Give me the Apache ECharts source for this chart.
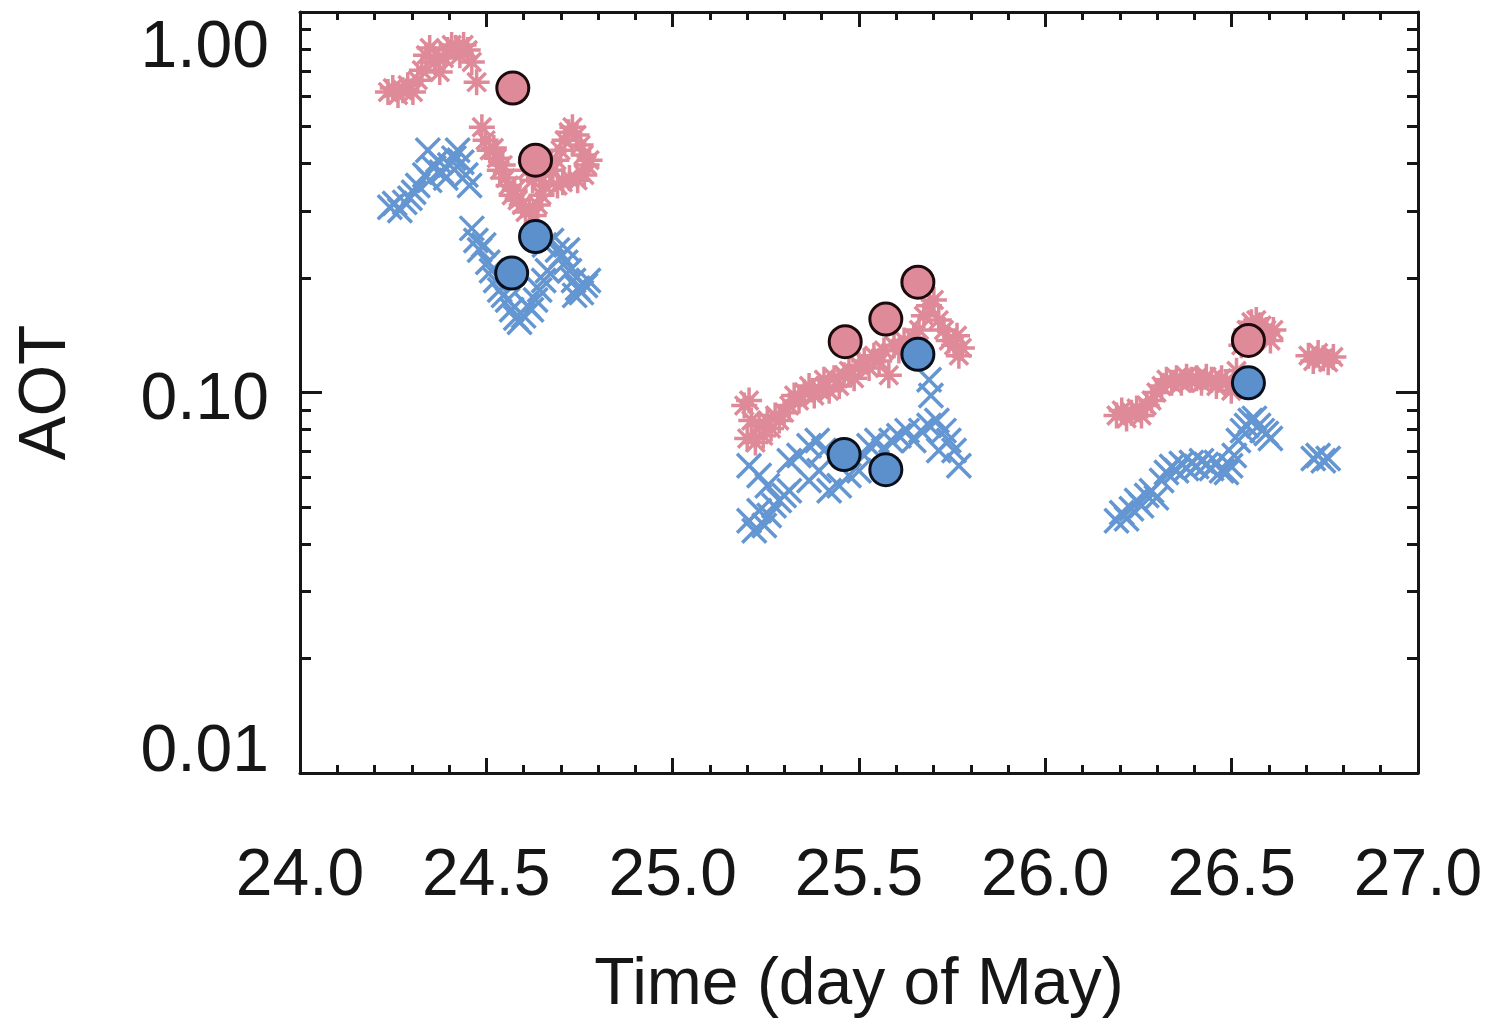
<!DOCTYPE html>
<html>
<head>
<meta charset="utf-8">
<script src="https://cdn.jsdelivr.net/npm/echarts@6/dist/echarts.min.js"></script>
<style>
html,body{margin:0;padding:0;background:#fff;}
#chart{width:1487px;height:1024px;}
</style>
</head>
<body>
<div id="chart"></div>
<script>
// ---- data (time in day of May, AOT) ----
const starTime = [
 24.236,24.249,24.263,24.276,24.289,24.303,24.316,24.327,24.338,24.348,24.362,24.375,24.386,24.396,24.407,24.418,24.429,24.439,24.450,24.461,24.474,
 24.488,24.498,24.509,24.520,24.528,24.536,24.544,24.552,24.560,24.568,24.576,24.584,24.595,24.605,24.616,24.627,24.638,24.648,24.656,24.611,24.624,24.643,24.654,
 24.678,24.688,24.699,24.710,24.721,24.731,24.742,24.753,24.761,24.769,24.777,24.763,24.745,24.723,24.705,24.691,
 25.192,25.205,25.200,25.211,25.222,25.232,25.243,25.254,25.264,25.275,25.286,25.299,25.313,25.326,25.339,25.353,25.366,25.380,25.393,25.406,25.420,25.433,25.447,25.460,25.473,25.487,25.500,25.514,25.527,25.540,25.554,25.567,25.580,25.594,25.607,25.621,25.634,25.647,25.661,25.674,25.688,25.701,25.714,25.728,25.741,25.755,25.768,25.776,25.763,
 26.191,26.205,26.218,26.231,26.245,26.258,26.272,26.285,26.298,26.312,26.325,26.339,26.352,26.365,26.379,26.392,26.406,26.419,26.432,26.446,26.459,26.473,26.486,26.499,26.513,26.526,26.540,26.553,26.566,26.580,26.593,26.604,26.612,
 26.706,26.719,26.732,26.746,26.759,26.773
];
const starAot = [
 0.616,0.631,0.605,0.623,0.642,0.616,0.662,0.703,0.770,0.804,0.739,0.695,0.757,0.794,0.819,0.804,0.770,0.819,0.794,0.739,0.654,
 0.498,0.460,0.433,0.439,0.413,0.384,0.396,0.366,0.350,0.330,0.340,0.320,0.311,0.298,0.305,0.292,0.311,0.330,0.350,0.384,0.361,0.373,0.408,
 0.384,0.408,0.433,0.460,0.483,0.498,0.475,0.447,0.421,0.396,0.408,0.373,0.361,0.366,0.357,0.350,
 0.0924,0.0953,0.0757,0.0844,0.0739,0.0819,0.0770,0.0844,0.0804,0.0870,0.0844,0.0885,0.0924,0.0982,0.0953,0.100,0.104,0.0982,0.102,0.108,0.101,0.109,0.104,0.111,0.114,0.109,0.118,0.121,0.116,0.125,0.121,0.129,0.111,0.133,0.129,0.137,0.133,0.139,0.146,0.159,0.169,0.175,0.155,0.146,0.137,0.133,0.125,0.131,0.141,
 0.0870,0.0897,0.0855,0.0885,0.0908,0.0870,0.0924,0.0953,0.100,0.104,0.108,0.106,0.109,0.106,0.110,0.108,0.109,0.106,0.110,0.108,0.104,0.109,0.106,0.101,0.114,0.133,0.146,0.153,0.155,0.150,0.146,0.137,0.146,
 0.125,0.121,0.127,0.123,0.120,0.124
];
const crossTime = [
 24.241,24.254,24.268,24.281,24.295,24.305,24.316,24.343,24.335,24.348,24.359,24.370,24.380,24.391,24.402,24.413,24.423,24.434,24.445,24.455,
 24.461,24.472,24.482,24.493,24.504,24.514,24.525,24.536,24.546,24.557,24.568,24.579,24.589,24.600,24.611,24.621,24.632,24.643,24.654,24.664,24.656,24.675,24.691,
 24.702,24.713,24.723,24.734,24.745,24.755,24.766,24.774,24.737,24.718,
 25.205,25.232,25.254,25.205,25.219,25.232,25.246,25.259,25.272,25.286,25.299,25.313,25.313,25.339,25.366,25.388,25.406,25.366,25.393,25.420,25.447,25.473,25.500,25.514,25.527,25.548,25.567,25.586,25.607,25.629,25.647,25.666,25.688,25.709,25.728,25.741,25.755,25.768,25.714,25.688,25.693,
 26.191,26.205,26.218,26.231,26.245,26.258,26.272,26.285,26.298,26.312,26.325,26.339,26.352,26.365,26.379,26.392,26.406,26.419,26.432,26.446,26.459,26.473,26.486,26.497,26.507,26.518,26.529,26.540,26.550,26.561,26.572,26.582,26.593,26.604,
 26.719,26.732,26.746,26.759
];
const crossAot = [
 0.307,0.314,0.301,0.316,0.324,0.336,0.350,0.433,0.373,0.361,0.389,0.408,0.379,0.366,0.396,0.413,0.433,0.403,0.373,0.350,
 0.270,0.251,0.237,0.244,0.220,0.209,0.197,0.186,0.180,0.175,0.165,0.157,0.153,0.159,0.169,0.165,0.175,0.186,0.197,0.209,0.244,0.251,0.237,
 0.229,0.220,0.209,0.197,0.188,0.183,0.191,0.197,0.180,0.237,
 0.0642,0.0605,0.0569,0.0460,0.0433,0.0489,0.0447,0.0475,0.0504,0.0520,0.0536,0.0552,0.0662,0.0683,0.0725,0.0748,0.0704,0.0587,0.0623,0.0552,0.0569,0.0605,0.0623,0.0683,0.0725,0.0748,0.0704,0.0748,0.0770,0.0794,0.0748,0.0794,0.0819,0.0844,0.0794,0.0748,0.0704,0.0642,0.0704,0.108,0.0982,
 0.0460,0.0483,0.0466,0.0495,0.0520,0.0504,0.0536,0.0552,0.0529,0.0587,0.0616,0.0639,0.0623,0.0651,0.0631,0.0655,0.0639,0.0662,0.0647,0.0631,0.0655,0.0623,0.0616,0.0642,0.0683,0.0748,0.0794,0.0819,0.0844,0.0855,0.0819,0.0794,0.0780,0.0757,
 0.0671,0.0683,0.0662,0.0671
];
const circlePinkTime = [24.571, 24.632, 25.463, 25.572, 25.658, 26.545];
const circlePinkAot  = [0.631, 0.408, 0.136, 0.156, 0.195, 0.137];
const circleBlueTime = [24.568, 24.632, 25.460, 25.572, 25.658, 26.545];
const circleBlueAot  = [0.206, 0.257, 0.0687, 0.0627, 0.126, 0.106];
const xTickLabels = ['24.0','24.5','25.0','25.5','26.0','26.5','27.0'];
const yTickLabels = ['0.01','0.10','1.00'];
const yMinorValues = [0.02,0.03,0.04,0.05,0.06,0.07,0.08,0.09,0.2,0.3,0.4,0.5,0.6,0.7,0.8,0.9];

const zip = (a, b) => a.map((v, i) => [v, b[i]]);

const PINK = '#df8a99';
const BLUE = '#6496d2';
const FONT = 'Liberation Sans';
const INK = '#161616';

const chart = echarts.init(document.getElementById('chart'), null, {renderer: 'canvas'});

const xCommon = {
  type: 'value', min: 24, max: 27, interval: 0.5,
  axisLine: {show: true, onZero: false, lineStyle: {color: INK, width: 3}},
  axisTick: {show: true, inside: true, length: 15, lineStyle: {color: INK, width: 3}},
  minorTick: {show: true, splitNumber: 5, length: 8, lineStyle: {color: INK, width: 3}},
  splitLine: {show: false}, minorSplitLine: {show: false}
};
const yMinorCommon = {
  type: 'value', min: -2, max: 0,
  axisLine: {show: false},
  axisLabel: {show: false},
  splitLine: {show: false},
  axisTick: {show: true, inside: true, length: 11, lineStyle: {color: INK, width: 3},
    customValues: yMinorValues.map(v => Math.log10(v))}
};
const yMajorCommon = {
  type: 'log', logBase: 10, min: 0.01, max: 1,
  axisLine: {show: true, onZero: false, lineStyle: {color: INK, width: 3}},
  axisTick: {show: true, inside: true, length: 22, lineStyle: {color: INK, width: 3}},
  minorTick: {show: false},
  splitLine: {show: false}
};
const lblStyle = {fontSize: 66, fontFamily: FONT, color: INK};

const option = {
  backgroundColor: '#ffffff',
  animation: false,
  grid: {left: 300, right: 69, top: 12, bottom: 251, containLabel: false},
  xAxis: [
    Object.assign({}, xCommon, {
      position: 'bottom',
      name: 'Time (day of May)', nameLocation: 'middle', nameGap: 180,
      nameTextStyle: {fontSize: 66, fontFamily: FONT, color: INK},
      axisLabel: {show: true, margin: 71, fontSize: 66, fontFamily: FONT, color: INK,
        formatter: v => { const i = Math.round((v - 24) / 0.5); return xTickLabels[i] || ''; }}
    }),
    Object.assign({}, xCommon, {position: 'top', axisLabel: {show: false}})
  ],
  yAxis: [
    Object.assign({}, yMajorCommon, {
      position: 'left',
      name: 'AOT', nameLocation: 'middle', nameGap: 220,
      nameTextStyle: {fontSize: 66, fontFamily: FONT, color: INK},
      axisLabel: {show: true, margin: 31,
        formatter: v => {
          const e = Math.round(Math.log10(v));
          const t = yTickLabels[e + 2];
          if (e === 0) return '{top|' + t + '}';
          if (e === -2) return '{bot|' + t + '}';
          return '{mid|' + t + '}';
        },
        rich: {
          top: Object.assign({padding: [74, 0, 0, 0]}, lblStyle),
          mid: Object.assign({padding: [16, 0, 0, 0]}, lblStyle),
          bot: Object.assign({padding: [0, 0, 40, 0]}, lblStyle)
        }
      }
    }),
    Object.assign({}, yMajorCommon, {position: 'right', axisLabel: {show: false}}),
    Object.assign({}, yMinorCommon, {position: 'left'}),
    Object.assign({}, yMinorCommon, {position: 'right'})
  ],
  series: [
    {
      type: 'scatter', name: 'star', xAxisIndex: 0, yAxisIndex: 0,
      data: zip(starTime, starAot),
      symbol: 'path://M0,-10L0,10M-10,0L10,0M-7.07,-7.07L7.07,7.07M-7.07,7.07L7.07,-7.07',
      symbolSize: 26,
      itemStyle: {color: PINK, borderColor: PINK, borderWidth: 3.5, opacity: 1},
      z: 2
    },
    {
      type: 'scatter', name: 'cross', xAxisIndex: 0, yAxisIndex: 0,
      data: zip(crossTime, crossAot),
      symbol: 'path://M-10,-10L10,10M-10,10L10,-10',
      symbolSize: 24,
      itemStyle: {color: BLUE, borderColor: BLUE, borderWidth: 3.5, opacity: 1},
      z: 3
    },
    {
      type: 'scatter', name: 'circlePink', xAxisIndex: 0, yAxisIndex: 0,
      data: zip(circlePinkTime, circlePinkAot),
      symbol: 'circle', symbolSize: 32,
      itemStyle: {color: PINK, borderColor: '#1c0a0c', borderWidth: 3, opacity: 1},
      z: 5
    },
    {
      type: 'scatter', name: 'circleBlue', xAxisIndex: 0, yAxisIndex: 0,
      data: zip(circleBlueTime, circleBlueAot),
      symbol: 'circle', symbolSize: 32,
      itemStyle: {color: '#5b90cc', borderColor: '#0a0f1c', borderWidth: 3, opacity: 1},
      z: 5
    }
  ]
};
chart.setOption(option);
</script>
</body>
</html>
